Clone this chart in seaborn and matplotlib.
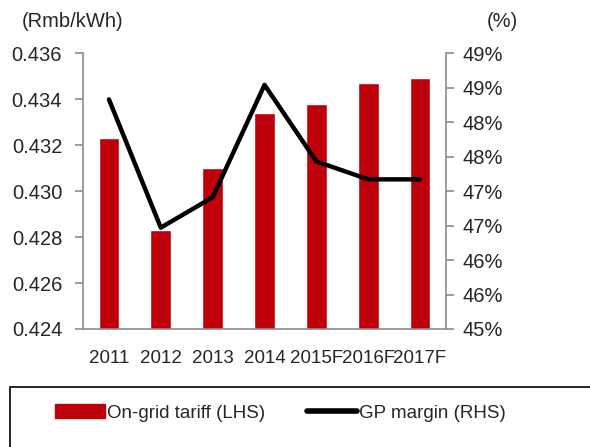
import seaborn as sns
import matplotlib
matplotlib.use('Agg')
import matplotlib.pyplot as plt
import matplotlib.patches as mpatches
import matplotlib.lines as mlines
import pandas as pd
import numpy as np

years = ['2011', '2012', '2013', '2014', '2015F', '2016F', '2017F']
tariff = [0.4323, 0.4283, 0.4310, 0.4334, 0.4338, 0.4347, 0.4349]
gp_margin = [48.33, 46.47, 46.91, 48.54, 47.43, 47.17, 47.17]
left_ticks = [0.424, 0.426, 0.428, 0.430, 0.432, 0.434, 0.436]
right_ticks = [45, 45.5, 46, 46.5, 47, 47.5, 48, 48.5, 49]
right_labels = ['45%', '46%', '46%', '47%', '47%', '48%', '48%', '49%', '49%']

RED = '#BE000A'
GREY = '#8C8C8C'

df = pd.DataFrame({'year': years, 'tariff': tariff, 'gp': gp_margin})
df['pos'] = np.arange(len(df))

sns.set_style('white')
plt.rcParams['font.family'] = ['Liberation Sans', 'DejaVu Sans']

fig = plt.figure(figsize=(5.9, 4.47), dpi=100)
ax = fig.add_axes([0.1407, 0.264, 0.6153, 0.617])

sns.barplot(x='year', y='tariff', data=df, color=RED, saturation=1, width=0.4, ax=ax)
ax.set_ylim(0.424, 0.436)
ax.set_yticks(left_ticks)
ax.set_yticklabels(['%.3f' % v for v in left_ticks], fontsize=14.5)
ax.set_xlim(-0.5, len(years) - 0.5)
ax.set_xlabel('')
ax.set_ylabel('')
ax.tick_params(axis='x', length=0, labelsize=13.5, pad=15)
ax.set_xticks(np.arange(-0.5, len(years), 1.0), minor=True)
ax.tick_params(axis='x', which='minor', length=6, width=1.2, color=GREY, direction='out')
ax.tick_params(axis='y', length=6, width=1.2, color=GREY, direction='out', pad=9)

ax2 = ax.twinx()
sns.lineplot(x='pos', y='gp', data=df, color='black', linewidth=3.2, ax=ax2)
ax2.set_ylim(45, 49)
ax2.set_yticks(right_ticks)
ax2.set_yticklabels(right_labels, fontsize=14.5)
ax2.set_ylabel('')
ax2.set_xlabel('')
ax2.tick_params(axis='y', length=6, width=1.2, color=GREY, direction='out', pad=6)

for a in (ax, ax2):
    a.spines['top'].set_visible(False)
    for s in ('left', 'right', 'bottom'):
        a.spines[s].set_color(GREY)
        a.spines[s].set_linewidth(1.2)
ax.spines['right'].set_visible(False)
ax2.spines['left'].set_visible(False)
ax2.spines['bottom'].set_visible(False)

fig.text(0.037, 0.953, '(Rmb/kWh)', fontsize=14.5, va='center', ha='left')
fig.text(0.878, 0.953, '(%)', fontsize=14.5, va='center', ha='right')

# legend box at bottom
box = mpatches.Rectangle((0.017, -0.05), 1.1, 0.184, transform=fig.transFigure,
                         fill=False, edgecolor='black', linewidth=1.2, clip_on=False)
fig.patches.append(box)
h1 = mpatches.Patch(color=RED)
h2 = mlines.Line2D([], [], color='black', linewidth=4, solid_capstyle='round')
fig.legend([h1, h2], ['On-grid tariff (LHS)', 'GP margin (RHS)'], loc='center',
           bbox_to_anchor=(0.475, 0.076), ncol=2, frameon=False, fontsize=13.5,
           handlelength=2.7, handleheight=0.75, handletextpad=0.1, columnspacing=2.2)

plt.savefig('out.png', dpi=100)
